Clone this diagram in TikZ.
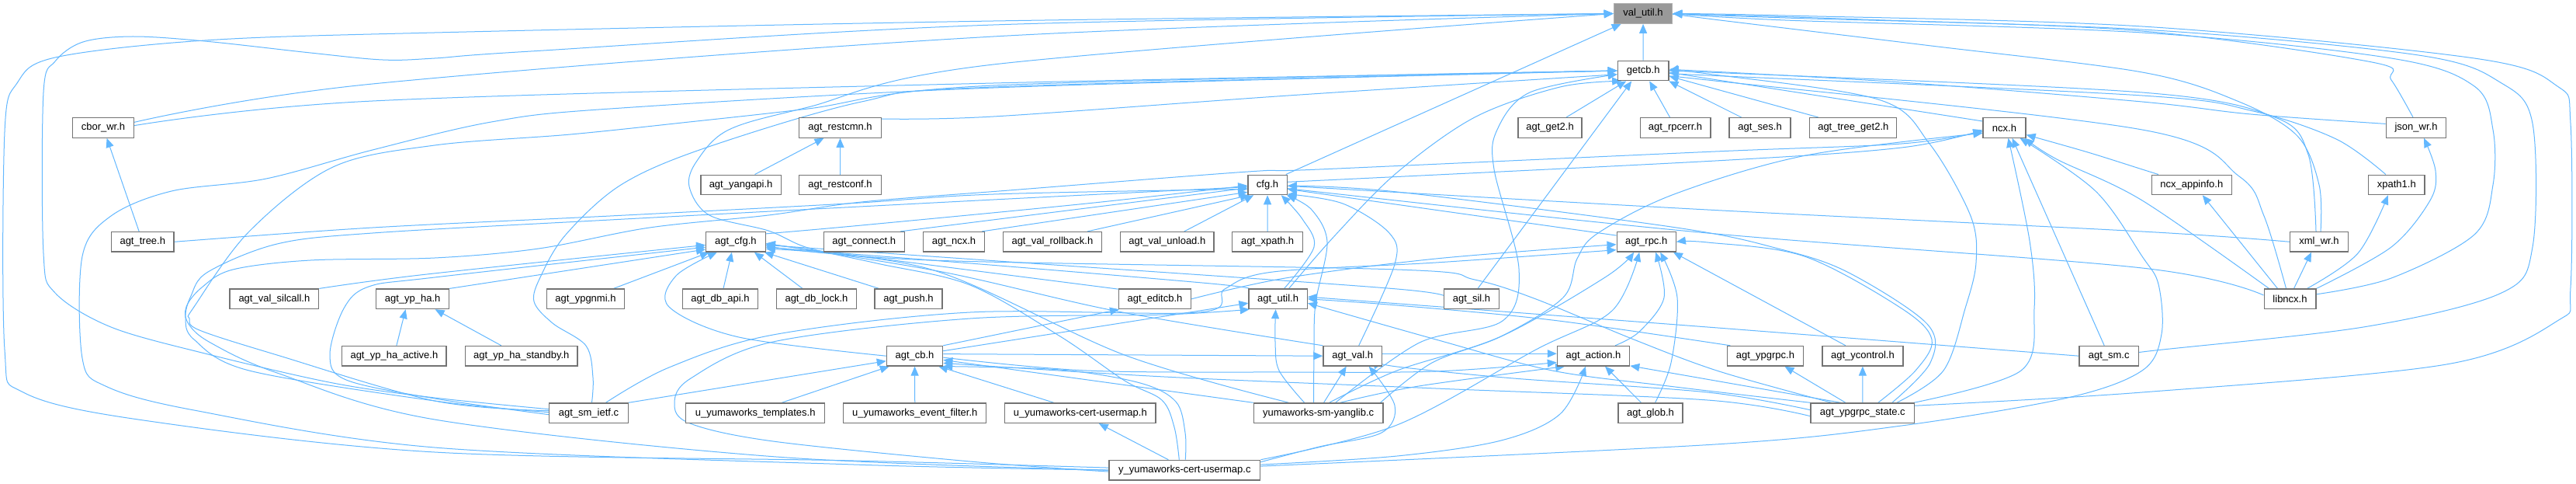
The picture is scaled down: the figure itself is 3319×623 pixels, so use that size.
\documentclass[tikz,border=0pt]{standalone}
\usepackage{fontspec}
\setmainfont{Liberation Sans}
\usetikzlibrary{arrows.meta}
\definecolor{edgeblue}{HTML}{63B8FF}
\definecolor{boxgray}{HTML}{737373}
\definecolor{rootfill}{HTML}{999999}
\definecolor{rootborder}{HTML}{B0B0B0}
\pgfdeclarelayer{bg}
\pgfdeclarelayer{edges}
\pgfsetlayers{bg,edges,main}
\begin{document}
\begin{tikzpicture}[x=1pt,y=-1pt,
  nd/.style={draw=boxgray,line width=1.3pt,fill=white,minimum height=25.5pt,inner sep=0pt,font=\fontsize{13pt}{15pt}\selectfont},
  root/.style={nd,fill=rootfill,draw=rootborder},
  e/.style={draw=edgeblue,line width=1pt,-{Triangle[length=12pt,width=10pt]}},
  ps/.style={smooth,tension=0.55}]
\begin{pgfonlayer}{bg}
\fill[white] (0,0) rectangle (3319,623);
\end{pgfonlayer}
\useasboundingbox (0,0) rectangle (3319,623);
% row 0-1
\node[root,minimum width=75.3pt] (V) at (2117,17.5) {val\_util.h};
\node[nd,minimum width=65.7pt] (Gc) at (2117.2,91) {getcb.h};
% row 2
\node[nd,minimum width=79pt] (cbor) at (133,164.4) {cbor\_wr.h};
\node[nd,minimum width=106pt] (rcmn) at (1082.5,164.4) {agt\_restcmn.h};
\node[nd,minimum width=82pt] (get2) at (1997,164.4) {agt\_get2.h};
\node[nd,minimum width=90.7pt] (rpcerr) at (2158.5,164.4) {agt\_rpcerr.h};
\node[nd,minimum width=79pt] (ses) at (2267.6,164.4) {agt\_ses.h};
\node[nd,minimum width=112pt] (tg2) at (2387.8,164.4) {agt\_tree\_get2.h};
\node[nd,minimum width=55pt] (ncx) at (2582.5,164.4) {ncx.h};
\node[nd,minimum width=77.4pt] (json) at (3113,164.4) {json\_wr.h};
% row 3
\node[nd,minimum width=103.5pt] (yapi) at (954.6,237.9) {agt\_yangapi.h};
\node[nd,minimum width=106pt] (rconf) at (1082.5,237.9) {agt\_restconf.h};
\node[nd,minimum width=50.3pt] (cfg) at (1633,237.9) {cfg.h};
\node[nd,minimum width=102.7pt] (nxa) at (2823.8,237.9) {ncx\_appinfo.h};
\node[nd,minimum width=72.4pt] (xp1) at (3087.8,237.9) {xpath1.h};
% row 4
\node[nd,minimum width=80.3pt] (tree) at (183.8,311.3) {agt\_tree.h};
\node[nd,minimum width=76.5pt] (acfg) at (947.9,311.3) {agt\_cfg.h};
\node[nd,minimum width=104pt] (conn) at (1113.3,311.3) {agt\_connect.h};
\node[nd,minimum width=79pt] (ancx) at (1229,311.3) {agt\_ncx.h};
\node[nd,minimum width=126.8pt] (vrb) at (1355.9,311.3) {agt\_val\_rollback.h};
\node[nd,minimum width=120.3pt] (vul) at (1503.8,311.3) {agt\_val\_unload.h};
\node[nd,minimum width=91pt] (axp) at (1633.2,311.3) {agt\_xpath.h};
\node[nd,minimum width=76.1pt] (rpc) at (2121.2,311.3) {agt\_rpc.h};
\node[nd,minimum width=74.5pt] (xml) at (2988,311.3) {xml\_wr.h};
% row 5
\node[nd,minimum width=114.7pt] (vsc) at (353.4,384.8) {agt\_val\_silcall.h};
\node[nd,minimum width=94pt] (ypha) at (531.6,384.8) {agt\_yp\_ha.h};
\node[nd,minimum width=100.3pt] (ygnmi) at (754.5,384.8) {agt\_ypgnmi.h};
\node[nd,minimum width=96.8pt] (dbapi) at (928,384.8) {agt\_db\_api.h};
\node[nd,minimum width=102.5pt] (dblock) at (1052,384.8) {agt\_db\_lock.h};
\node[nd,minimum width=86.8pt] (push) at (1170.5,384.8) {agt\_push.h};
\node[nd,minimum width=93.2pt] (edcb) at (1488,384.8) {agt\_editcb.h};
\node[nd,minimum width=75.3pt] (autil) at (1646.6,384.8) {agt\_util.h};
\node[nd,minimum width=70.8pt] (sil) at (1896,384.8) {agt\_sil.h};
\node[nd,minimum width=66.7pt] (libncx) at (2950.5,384.8) {libncx.h};
% row 6
\node[nd,minimum width=134.3pt] (haact) at (507.9,458.2) {agt\_yp\_ha\_active.h};
\node[nd,minimum width=144.3pt] (hastb) at (671.8,458.2) {agt\_yp\_ha\_standby.h};
\node[nd,minimum width=72.2pt] (cb) at (1178.5,458.2) {agt\_cb.h};
\node[nd,minimum width=75.4pt] (aval) at (1742.7,458.2) {agt\_val.h};
\node[nd,minimum width=93.2pt] (act) at (2053,458.2) {agt\_action.h};
\node[nd,minimum width=97.7pt] (ygrpc) at (2274.4,458.2) {agt\_ypgrpc.h};
\node[nd,minimum width=104pt] (yctl) at (2399.9,458.2) {agt\_ycontrol.h};
\node[nd,minimum width=76.4pt] (smc) at (2717.2,458.2) {agt\_sm.c};
% row 7
\node[nd,minimum width=101.4pt] (smietf) at (758.5,531.7) {agt\_sm\_ietf.c};
\node[nd,minimum width=178.9pt] (utmpl) at (973.2,531.7) {u\_yumaworks\_templates.h};
\node[nd,minimum width=184pt] (uevf) at (1178.8,531.7) {u\_yumaworks\_event\_filter.h};
\node[nd,minimum width=194.4pt] (ucu) at (1391.8,531.7) {u\_yumaworks-cert-usermap.h};
\node[nd,minimum width=166.6pt] (ylib) at (1698.6,531.7) {yumaworks-sm-yanglib.c};
\node[nd,minimum width=83pt] (glob) at (2126.5,531.7) {agt\_glob.h};
\node[nd,minimum width=133.4pt] (ygs) at (2399.8,531.7) {agt\_ypgrpc\_state.c};
% row 8
\node[nd,minimum width=194.8pt] (yyc) at (1526.3,605.1) {y\_yumaworks-cert-usermap.c};

\begin{pgfonlayer}{edges}
% ---- top
\draw[e] (Gc) -- (V);
\draw[e] plot[ps] coordinates {(cbor.10) (480,108) (1280,47) (V.west)};
\draw[e] plot[ps] coordinates {(cbor.4) (480,130) (1280,107) (Gc.west)};
\draw[e] (tree) -- (cbor);
\draw[e] plot[ps] coordinates {(tree.east) (480,293) (786,278) (1092,262) (1280,250) (cfg.-168)};
% big left loops
\draw[e] plot[ps] coordinates {([yshift=3pt]yyc.west) (1100,593) (560,582) (178,540) (30,505) (6,450) (6,170) (22,107) (71,74) (264,52) (560,42) (1280,27) (V.west)};
\draw[e] plot[ps] coordinates {([yshift=5pt]smietf.west) (560,512) (429,493) (264,455) (143,421) (71,377) (56,326) (56,119) (71,79) (107,54) (171,47) (264,53) (400,68) (493,77) (560,75) (684,66) (1280,32) (V.west)};
\draw[e] plot[ps] coordinates {(yyc.west) (1100,598) (560,576) (250,528) (136,497) (106,461) (106,330) (143,278) (221,246) (343,230) (480,193) (633,157) (786,140) (1280,113) (Gc.west)};
\draw[e] plot[ps] coordinates {([yshift=3pt]smietf.west) (560,516) (357,457) (257,425) (244,410) (250,395) (321,298) (429,215) (560,187) (735,173) (888,157) (1041,140) (1280,110) (Gc.west)};
\draw[e] plot[ps] coordinates {([xshift=4pt]smietf.north) (764,486) (755,445) (712,416) (688,388) (697,355) (729,302) (800,238) (907,191) (1110,131) (1280,112) (Gc.west)};
\draw[e] plot[ps] coordinates {([xshift=-7pt]yyc.north) (1513,550) (1497,515) (1449,490) (1366,433) (1250,367) (1130,339) (1041,319) (990,297) (914,277) (888,240) (898,207) (939,167) (1041,138) (1280,83) (V.west)};
\draw[e] plot[ps] coordinates {([yshift=1pt]smietf.west) (560,516) (321,477) (250,437) (239,409) (246,381) (268,350) (357,314) (480,300) (786,283) (1280,257) (cfg.-174)};
\draw[e] plot[ps] coordinates {(yyc.west) (1000,588) (560,540) (357,480) (271,441) (243,417) (240,395) (260,370) (300,347) (400,335) (560,332) (694,320) (837,293) (990,277) (1110,260) (1300,245) (1608,221) (1700,218) (2210,195) (2450,185) (ncx.-170)};
\draw[e] plot[ps] coordinates {([yshift=-2pt]smietf.west) (560,513) (446,489) (425,457) (443,397) (475,369) (560,357) (acfg.-170)};
% ---- cfg / restcmn / getcb children
\draw[e] ([xshift=-2pt]cfg.north east) -- ([xshift=10pt]V.south west);
\draw[e] plot[ps] coordinates {(rcmn.12) (1280,150) (1660,123) (Gc.-172)};
\draw[e] ([xshift=18pt]yapi.north) -- ([xshift=-21pt]rcmn.south);
\draw[e] (rconf) -- (rcmn);
\draw[e] ([xshift=21pt]get2.north) -- ([xshift=-22pt]Gc.south);
\draw[e] ([xshift=-7pt]rpcerr.north) -- ([xshift=8pt]Gc.south);
\draw[e] ([xshift=-24pt]ses.north) -- (Gc.-22);
\draw[e] ([xshift=-45pt]tg2.north) -- (Gc.-12);
\draw[e] ([yshift=-5pt]ncx.north west) -- (Gc.-4);
% ---- right side
\draw[e] plot[ps] coordinates {([yshift=5pt]json.west) (2900,147) (2760,131) (2450,106) (Gc.3)};
\draw[e] plot[ps] coordinates {([xshift=-4pt]json.north) (3081,103) (3056,80) (2760,40) (2400,25) (V.east)};
\draw[e] plot[ps] coordinates {([xshift=2pt]xml.north) (2988,238) (2960,175) (2885,131) (2760,93) (2480,58) (2200,24) (V.east)};
\draw[e] plot[ps] coordinates {([xshift=-4pt]xml.north) (2974,199) (2931,151) (2760,119) (2200,93) (Gc.-2)};
\draw[e] plot[ps] coordinates {([xshift=-14pt]xp1.north) (3010,179) (2903,143) (2760,123) (2200,97) (Gc.-6)};
\draw[e] plot[ps] coordinates {([xshift=-5pt]libncx.north) (2917,278) (2885,227) (2760,167) (2200,103) (Gc.-14)};
\draw[e] plot[ps] coordinates {(libncx.10) (3081,358) (3188,302) (3212,238) (3212,167) (3188,111) (3081,75) (2760,42) (2300,26) (V.east)};
\draw[e] plot[ps] coordinates {(smc.east) (2760,453) (3045,421) (3223,377) (3263,318) (3263,159) (3223,107) (3116,71) (2760,38) (2300,23) (V.east)};
\draw[e] plot[ps] coordinates {(ygs.8) (2760,505) (3152,469) (3295,413) (3312,370) (3312,159) (3295,111) (3188,75) (2760,34) (2300,20) (V.east)};
\draw[e] plot[ps] coordinates {(libncx.north east) (3081,318) (3131,258) (3138,220) ([xshift=10pt]json.south)};
\draw[e] plot[ps] coordinates {([xshift=22pt]libncx.north) (3038,326) ([xshift=-11pt]xp1.south)};
\draw[e] ([xshift=5pt]libncx.north) -- ([xshift=-10pt]xml.south);
\draw[e] ([xshift=-16pt]libncx.north) -- ([xshift=14pt]nxa.south);
\draw[e] plot[ps] coordinates {([xshift=-43pt]nxa.north) (2760,218) (2690,196) (ncx.-18)};
\draw[e] plot[ps] coordinates {([xshift=-27pt]libncx.north) (2760,258) (2650,205) ([xshift=-2pt]ncx.south east)};
\draw[e] plot[ps] coordinates {(xml.west) (2760,298) (2200,270) (1671,240) (cfg.east)};
\draw[e] plot[ps] coordinates {(libncx.172) (2760,345) (2200,300) (1680,245) (cfg.-8)};
\draw[e] plot[ps] coordinates {([yshift=5pt]yyc.east) (2210,572) (2450,548) (2664,512) (2760,477) (2785,430) (2781,366) (2760,330) (2700,246) ([xshift=20pt]ncx.south)};
\draw[e] ([xshift=-6pt]smc.north) -- ([xshift=10pt]ncx.south);
\draw[e] plot[ps] coordinates {([xshift=66pt]ygs.north) (2604,477) (2621,397) (2615,310) ([xshift=5pt]ncx.south)};
\draw[e] plot[ps] coordinates {(cfg.8) (2210,207) (2450,190) (ncx.-174)};
% ---- agt_ypgrpc_state.c
\draw[e] plot[ps] coordinates {([xshift=44pt]ygs.north) (2504,477) (2532,397) (2546,338) (2539,278) (2486,185) (2420,128) (2200,95) (Gc.east)};
\draw[e] plot[ps] coordinates {([xshift=20pt]ygs.north) (2468,477) (2489,437) (2450,397) (2325,330) (2200,312) (rpc.east)};
\draw[e] plot[ps] coordinates {([xshift=38pt]ygs.north) (2487,467) (2483,417) (2380,350) (2291,320) (2160,293) (1800,247) (cfg.-3)};
\draw[e] ([xshift=-22pt]ygs.north) -- ([xshift=25pt]ygrpc.south);
\draw[e] (ygs) -- (yctl);
\draw[e] ([xshift=-28pt]ygs.north) -- (act.-15);
\draw[e] plot[ps] coordinates {([xshift=-40pt]ygs.north) (2215,478) (2105,437) (1979,385) (1900,360) (1800,347) (1200,335) (acfg.-8)};
\draw[e] plot[ps] coordinates {(ygs.north west) (2150,497) (2000,477) (1850,437) (autil.-8)};
\draw[e] plot[ps] coordinates {([xshift=-45pt]ygrpc.north) (2000,412) (1800,393) (autil.east)};
\draw[e] plot[ps] coordinates {(smc.west) (2200,421) (autil.4)};
\draw[e] plot[ps] coordinates {([yshift=4pt]ygs.west) (2200,505) (1950,487) (1800,472) (aval.-12)};
\draw[e] plot[ps] coordinates {([yshift=-4pt]ygs.west) (2200,515) (1850,500) (1500,485) (cb.-14)};
% ---- agt_action / agt_rpc / agt_val
\draw[e] ([yshift=3pt]aval.east) -- ([yshift=3pt]act.west);
\draw[e] plot[ps] coordinates {(cb.-3) (1400,477) (1650,479) (1850,478) (act.-170)};
\draw[e] plot[ps] coordinates {([xshift=28pt]ylib.north) (1828,497) (act.-160)};
\draw[e] ([xshift=-12pt]glob.north) -- ([xshift=15pt]act.south);
\draw[e] plot[ps] coordinates {([yshift=7pt]yyc.east) (1800,587) (1934,567) (2010,533) ([xshift=-10pt]act.south)};
\draw[e] plot[ps] coordinates {(yyc.north east) (1800,547) (1979,450) (2077,400) ([xshift=-9pt]rpc.south)};
\draw[e] plot[ps] coordinates {([xshift=14pt]ylib.north) (1800,477) (1934,433) (2068,357) ([xshift=-16pt]rpc.south)};
\draw[e] plot[ps] coordinates {([xshift=28pt]act.north) (2112,427) (2144,383) ([xshift=12pt]rpc.south)};
\draw[e] plot[ps] coordinates {([xshift=6pt]glob.north) (2153,467) (2161,383) ([xshift=18pt]rpc.south)};
\draw[e] ([xshift=-22pt]yctl.north) -- ([xshift=-4pt]rpc.south east);
\draw[e] (rpc.168) -- (cfg.-12);
\draw[e] ([xshift=7pt]ylib.north) -- ([xshift=-8pt]aval.south);
\draw[e] plot[ps] coordinates {([yshift=-3pt]yyc.north east) (1700,575) (1780,557) (1797,522) ([xshift=21pt]aval.south)};
\draw[e] plot[ps] coordinates {([xshift=8pt]aval.north) (1797,340) (1790,300) (1730,262) (cfg.-25)};
\draw[e] plot[ps] coordinates {(aval.north west) (1441,401) (1214,350) (acfg.-3)};
% ---- agt_util / yanglib / agt_sil
\draw[e] plot[ps] coordinates {([xshift=14pt]autil.north) (1721,302) (1800,222) (1900,151) (2010,112) ([xshift=-28pt]Gc.south)};
\draw[e] plot[ps] coordinates {([xshift=8pt]autil.north) (1693,318) (1678,282) ([xshift=-8pt]cfg.south east)};
\draw[e] plot[ps] coordinates {([xshift=-18pt]ylib.north) (1648,477) (1643,440) ([xshift=-3pt]autil.south)};
\draw[e] plot[ps] coordinates {([xshift=-6pt]ylib.north) (1693,450) (1695,390) (1710,312) (1690,270) ([xshift=-1pt]cfg.south east)};
\draw[e] plot[ps] coordinates {([xshift=22pt]ylib.north) (1829,441) (1936,413) (1957,346) (1925,218) (1929,167) (1971,119) (Gc.-172)};
\draw[e] plot[ps] coordinates {([xshift=-4pt]ylib.north east) (1845,467) (1934,433) (2014,383) (2032,333) (2059,300) (2157,250) (2327,200) (ncx.-166)};
\draw[e] (ylib.north west) -- (cb.-8);
\draw[e] plot[ps] coordinates {([xshift=-38pt]ylib.north) (1449,457) (1200,347) (acfg.-13)};
\draw[e] ([xshift=8pt]sil.north) -- ([xshift=-15pt]Gc.south);
\draw[e] plot[ps] coordinates {(sil.west) (1800,372) (1300,337) (acfg.-6)};
\draw[e] (edcb.165) -- (acfg.-4);
\draw[e] plot[ps] coordinates {(edcb.east) (1656,358) (1850,333) (rpc.-175)};
\draw[e] plot[ps] coordinates {([xshift=22pt]smietf.north) (862,473) (996,431) (1250,402) (1545,402) (1578,372) (1640,350) (1850,338) (rpc.-165)};
\draw[e] plot[ps] coordinates {(autil.160) (1560,365) (1300,343) (acfg.-10)};
% ---- agt_cb
\draw[e] (smietf.north east) -- (cb.-170);
\draw[e] plot[ps] coordinates {([yshift=-2pt]yyc.west) (1250,594) (996,568) (889,545) (869,519) (890,487) (996,440) (1250,410) (1500,405) (autil.-160)};
\draw[e] plot[ps] coordinates {(cb.west) (952,434) (862,395) (871,355) ([xshift=-24pt]acfg.south)};
\draw[e] (cb.north east) -- ([xshift=-46pt]edcb.south);
\draw[e] (cb.10) -- (autil.-172);
\draw[e] (cb.4) -- (aval.west);
\draw[e] ([xshift=-34pt]ucu.north) -- ([xshift=-6pt]cb.south east);
\draw[e] (uevf) -- (cb);
\draw[e] ([xshift=34pt]utmpl.north) -- ([xshift=4pt]cb.south west);
\draw[e] ([xshift=-21pt]yyc.north) -- ([xshift=24pt]ucu.south);
\draw[e] plot[ps] coordinates {([xshift=1pt]yyc.north) (1527,557) (1515,517) (1469,493) (1366,476) (cb.-20)};
% ---- agt_cfg children and left
\draw[e] plot[ps] coordinates {(vsc.north east) (550,353) (acfg.-174)};
\draw[e] (ypha.north east) -- (acfg.-166);
\draw[e] ([xshift=3pt]haact.north) -- ([xshift=-9pt]ypha.south);
\draw[e] ([xshift=-26pt]hastb.north) -- ([xshift=29pt]ypha.south);
\draw[e] ([xshift=36pt]ygnmi.north) -- ([xshift=-34pt]acfg.south);
\draw[e] ([xshift=4pt]dbapi.north) -- ([xshift=-5pt]acfg.south);
\draw[e] ([xshift=-18pt]dblock.north) -- ([xshift=24pt]acfg.south);
\draw[e] ([xshift=-38pt]push.north) -- ([xshift=-2pt]acfg.south east);
\draw[e] plot[ps] coordinates {(acfg.15) (1110,290) (1400,262) (cfg.-178)};
\draw[e] ([xshift=-6pt]conn.north east) -- (cfg.-171);
\draw[e] ([xshift=-4pt]ancx.north east) -- (cfg.-160);
\draw[e] ([xshift=45pt]vrb.north) -- (cfg.-150);
\draw[e] ([xshift=22pt]vul.north) -- ([xshift=8pt]cfg.south west);
\draw[e] (axp) -- (cfg);
\end{pgfonlayer}
\end{tikzpicture}
\end{document}
